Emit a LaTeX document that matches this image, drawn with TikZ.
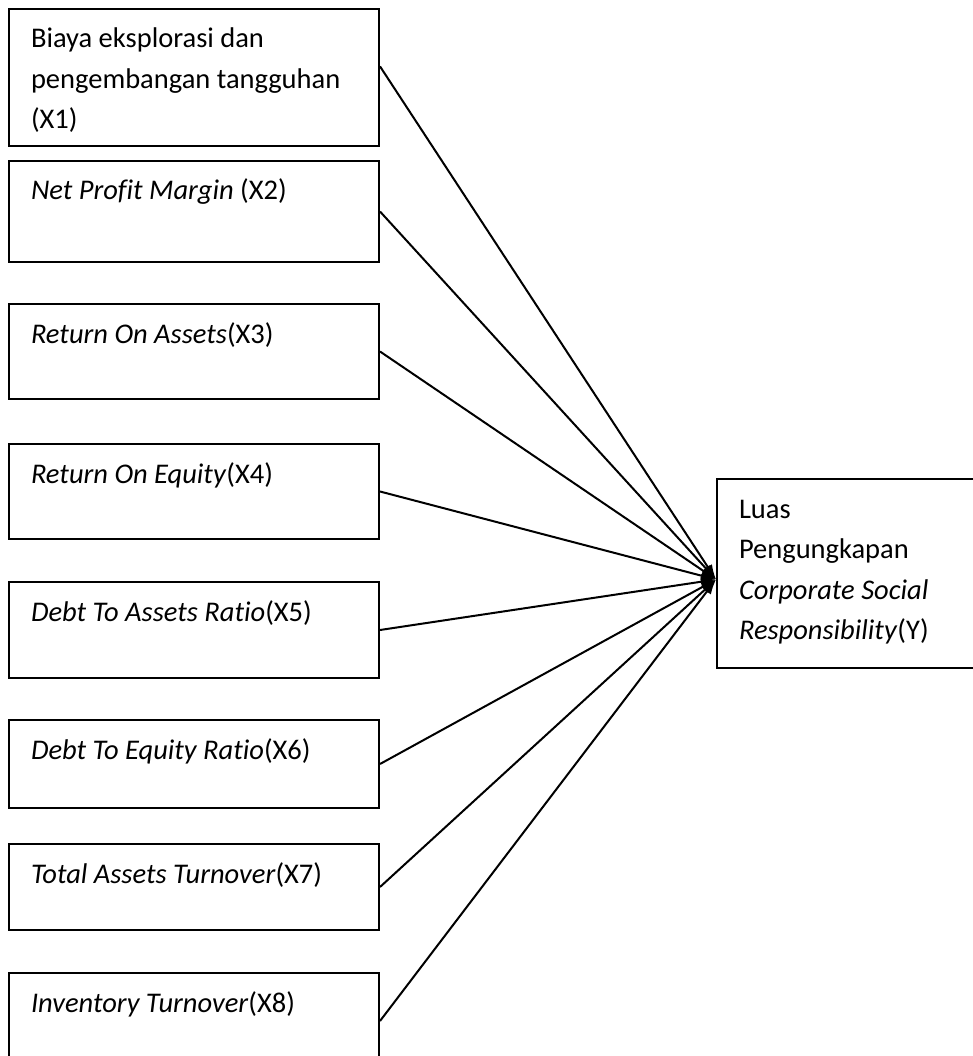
\documentclass[tikz,border=0pt]{standalone}
\usepackage{fontspec}
\setmainfont{Carlito}[Ligatures=NoCommon]
\usetikzlibrary{arrows.meta,calc}
\newcommand{\boxcontent}[3]{\parbox[c][#1][t]{#2}{\fontsize{28.5pt}{40.5pt}\selectfont\rule{0pt}{39pt}#3}}
\tikzset{
  lbox/.style={draw, line width=2pt, inner xsep=22pt, inner ysep=0pt, anchor=north west},
  conn/.style={line width=2pt, -{Latex[length=15pt,width=10pt]}}
}
\begin{document}
\begin{tikzpicture}[x=1pt,y=-1pt]
\path[use as bounding box, clip] (0,0) rectangle (973,1056);
\node[lbox] (b1) at (8,8)   {\boxcontent{137pt}{326pt}{Biaya eksplorasi dan\\pengembangan tangguhan\\(X1)}};
\node[lbox] (b2) at (8,160) {\boxcontent{101pt}{326pt}{\textit{Net Profit Margin} (X2)}};
\node[lbox] (b3) at (8,303) {\boxcontent{95pt}{326pt}{\textit{Return On Assets}(X3)}};
\node[lbox] (b4) at (8,443) {\boxcontent{95pt}{326pt}{\textit{Return On Equity}(X4)}};
\node[lbox] (b5) at (8,581) {\boxcontent{96pt}{326pt}{\textit{Debt To Assets Ratio}(X5)}};
\node[lbox] (b6) at (8,719) {\boxcontent{88pt}{326pt}{\textit{Debt To Equity Ratio}(X6)}};
\node[lbox] (b7) at (8,843) {\boxcontent{86pt}{326pt}{\textit{Total Assets Turnover}(X7)}};
\node[lbox] (b8) at (8,972) {\boxcontent{96pt}{326pt}{\textit{Inventory Turnover}(X8)}};
\node[lbox] (y) at (716,478) {\boxcontent{189pt}{218pt}{Luas\\Pengungkapan\\\textit{Corporate Social}\\\textit{Responsibility}(Y)}};
\coordinate (t) at ($(y.west)+(0,6)$);
\draw[conn] ($(b1.north east)!0.42!(b1.south east)$) -- (t);
\draw[conn] (b2.east) -- (t);
\draw[conn] (b3.east) -- (t);
\draw[conn] (b4.east) -- (t);
\draw[conn] (b5.east) -- (t);
\draw[conn] (b6.east) -- (t);
\draw[conn] (b7.east) -- (t);
\draw[conn] (b8.east) -- (t);
\end{tikzpicture}
\end{document}
